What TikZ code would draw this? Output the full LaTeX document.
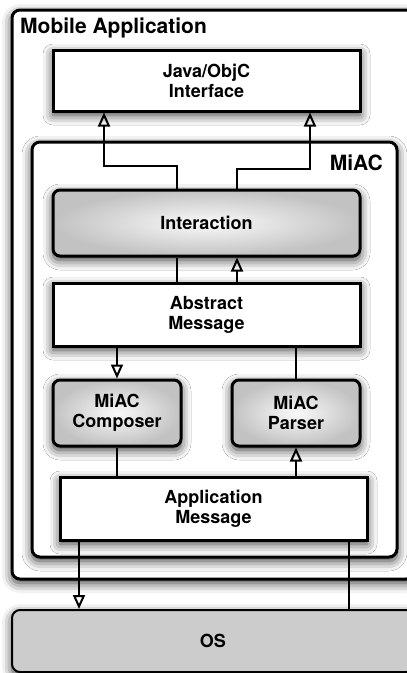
\documentclass[tikz,border=0pt]{standalone}
\usepackage{fontspec}
\setmainfont{TeX Gyre Heros}
\usetikzlibrary{arrows.meta,shadows.blur}
\tikzset{
  shad/.style={blur shadow={shadow xshift=0pt, shadow yshift=-4pt, shadow blur radius=10pt, shadow opacity=80}},
  frame/.style={draw=black, line width=3pt, fill=white, rounded corners=8pt, shad},
  plainbox/.style={draw=black, line width=3pt, fill=white, shad, align=center,
    font=\fontsize{18}{20}\selectfont\bfseries, inner sep=0pt},
  gradbox/.style={draw=black, line width=3pt, rounded corners=7pt, shad, align=center,
    shading=radial, inner color=gray!4, outer color=gray!48,
    font=\fontsize{18}{20}\selectfont\bfseries, inner sep=0pt},
  ln/.style={draw=black, line width=2pt},
  arr/.style={ln, -{Triangle[open, length=14pt, width=12pt, line width=2pt]}},
  ttl/.style={font=\fontsize{21}{24}\selectfont\bfseries, inner sep=0pt},
}
\begin{document}
\begin{tikzpicture}[x=1pt, y=-1pt]
\useasboundingbox (0,0) rectangle (407,673);
\clip (0,0) rectangle (407,673);
% outer frames
\node[frame, minimum width=402pt, minimum height=569pt] (mob) at (213,294.5) {};
\node[ttl, anchor=base west] (mobt) at (20,33) {Mobile Application};
\node[plainbox, minimum width=307pt, minimum height=61pt] (java) at (206.5,80.5) {Java/ObjC\\Interface};
\node[frame, minimum width=365pt, minimum height=415pt] (miac) at (214.5,349.5) {};
\node[ttl, anchor=base east] (miact) at (383,170) {MiAC};
% inner boxes
\node[gradbox, minimum width=307pt, minimum height=66pt] (inter) at (206.5,223) {Interaction};
\node[plainbox, minimum width=307pt, minimum height=63pt] (abs) at (206.5,314.5) {Abstract\\Message};
\node[gradbox, minimum width=128pt, minimum height=66pt] (comp) at (117,413) {MiAC\\Composer};
\node[gradbox, minimum width=128pt, minimum height=66pt] (pars) at (296,413) {MiAC\\Parser};
\node[plainbox, minimum width=307pt, minimum height=63pt] (app) at (213.5,508.5) {Application\\Message};
\node[draw=black, line width=2pt, fill=gray!40, rounded corners=8pt, shad,
  minimum width=402pt, minimum height=62pt, inner sep=0pt,
  font=\fontsize{18}{20}\selectfont\bfseries] (os) at (213,641) {OS};
% column coordinates
\coordinate (xa) at (104,0);
\coordinate (xb) at (177,0);
\coordinate (xc) at (237,0);
\coordinate (xd) at (310,0);
\coordinate (xe) at (117,0);
\coordinate (xf) at (296,0);
\coordinate (xg) at (79,0);
\coordinate (xh) at (349,0);
% connectors
\draw[arr] (inter.north -| xb) -- ++(0,-23) -| (java.south -| xa);
\draw[arr] (inter.north -| xc) -- ++(0,-20) -| (java.south -| xd);
\draw[ln] (inter.south -| xb) -- (abs.north -| xb);
\draw[arr] (abs.north -| xc) -- (inter.south -| xc);
\draw[arr] (abs.south -| xe) -- (comp.north -| xe);
\draw[ln] (abs.south -| xf) -- (pars.north -| xf);
\draw[ln] (comp.south -| xe) -- (app.north -| xe);
\draw[arr] (app.north -| xf) -- (pars.south -| xf);
\draw[arr] (app.south -| xg) -- (os.north -| xg);
\draw[ln] (app.south -| xh) -- (os.north -| xh);
\end{tikzpicture}
\end{document}
